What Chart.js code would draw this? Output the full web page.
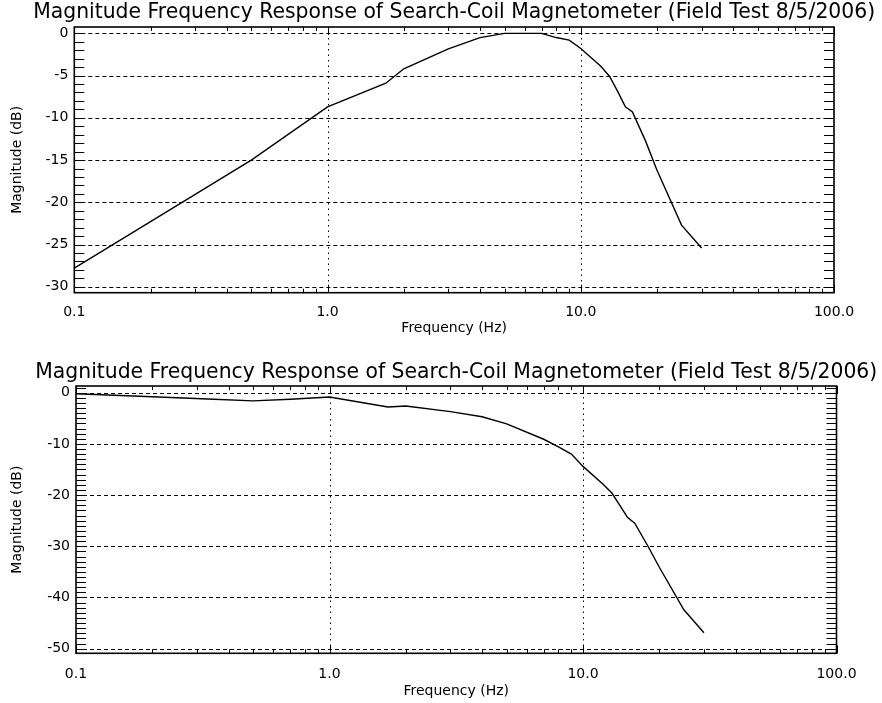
<!DOCTYPE html>
<html><head><meta charset="utf-8">
<script src="https://cdn.jsdelivr.net/npm/chart.js@4.4.1/dist/chart.umd.min.js"></script>
<style>
html,body{margin:0;padding:0;background:#fff;width:882px;height:703px;overflow:hidden}
.p{position:absolute;left:0;width:882px}
#w1{top:0;height:340px}
#w2{top:340px;height:363px}
</style></head><body>
<div class="p" id="w1"><canvas id="c1"></canvas></div>
<div class="p" id="w2"><canvas id="c2"></canvas></div>
<script>
const chartTitle = "Magnitude Frequency Response of Search-Coil Magnetometer (Field Test 8/5/2006)";
const xAxisTitle = "Frequency (Hz)";
const yAxisTitle = "Magnitude (dB)";

const freqTop = [0.1, 0.5, 1.0, 1.7, 2.0, 3.0, 4.0, 5.0, 6.0, 7.0, 8.0, 9.0, 10, 12, 13, 14, 15, 16, 18, 20, 25, 30];
const magTop  = [-27.8, -15.0, -8.7, -5.9, -4.2, -1.85, -0.5, 0, 0, 0, -0.5, -0.8, -1.8, -3.9, -5.1, -6.9, -8.7, -9.3, -12.7, -16.2, -22.7, -25.4];

const freqBottom = [0.1, 0.2, 0.35, 0.5, 0.7, 1.0, 1.7, 2.0, 3.0, 4.0, 5.0, 7.0, 8.0, 9.0, 10, 12, 13, 15, 16, 18, 20, 25, 30];
const magBottom  = [-0.2, -0.8, -1.3, -1.6, -1.3, -0.85, -2.8, -2.6, -3.7, -4.7, -6.1, -9.1, -10.6, -12.0, -14.4, -17.9, -19.6, -24.4, -25.5, -29.9, -34.1, -42.4, -46.9];

const xTickValues = [0.1, 1, 10, 100];
const xTickLabels = ["0.1", "1.0", "10.0", "100.0"];
const xMinorValues = [0.2,0.3,0.4,0.5,0.6,0.7,0.8,0.9,2,3,4,5,6,7,8,9,20,30,40,50,60,70,80,90];
const yTicksTop = [0, -5, -10, -15, -20, -25, -30];
const yTicksBottom = [0, -10, -20, -30, -40, -50];

const FONT = "'DejaVu Sans', sans-serif";

function makeChart(canvasId, freq, mag, yTicks, yMin, yMax, minorStep, L) {
  const pts = freq.map((f, i) => ({x: f, y: mag[i]}));
  const deco = {
    id: 'deco',
    beforeDatasetsDraw(chart) {
      const {ctx, chartArea: a, scales: {x, y}} = chart;
      ctx.save();
      ctx.strokeStyle = '#000';
      ctx.lineWidth = 1;
      ctx.setLineDash([4, 3]);
      yTicks.forEach(v => {
        const py = Math.round(y.getPixelForValue(v)) + 0.5;
        ctx.beginPath(); ctx.moveTo(a.left, py); ctx.lineTo(a.right, py); ctx.stroke();
      });
      ctx.setLineDash([1.5, 4]);
      xTickValues.slice(1, -1).forEach(v => {
        const px = Math.round(x.getPixelForValue(v)) + 0.5;
        ctx.beginPath(); ctx.moveTo(px, a.top); ctx.lineTo(px, a.bottom); ctx.stroke();
      });
      ctx.restore();
    },
    afterDatasetsDraw(chart) {
      const {ctx, chartArea: a, scales: {x, y}} = chart;
      ctx.save();
      ctx.strokeStyle = '#000';
      ctx.setLineDash([]);
      ctx.lineWidth = 1;
      xMinorValues.forEach(v => {
        const px = Math.round(x.getPixelForValue(v)) + 0.5;
        ctx.beginPath();
        ctx.moveTo(px, a.bottom); ctx.lineTo(px, a.bottom - 4);
        ctx.moveTo(px, a.top); ctx.lineTo(px, a.top + 4);
        ctx.stroke();
      });
      xTickValues.forEach(v => {
        const px = Math.round(x.getPixelForValue(v)) + 0.5;
        ctx.beginPath();
        ctx.moveTo(px, a.bottom); ctx.lineTo(px, a.bottom - 8);
        ctx.moveTo(px, a.top); ctx.lineTo(px, a.top + 8);
        ctx.stroke();
      });
      for (let v = Math.ceil(yMin); v <= Math.floor(yMax); v += minorStep) {
        const py = Math.round(y.getPixelForValue(v)) + 0.5;
        ctx.beginPath();
        ctx.moveTo(a.left, py); ctx.lineTo(a.left + 10, py);
        ctx.moveTo(a.right, py); ctx.lineTo(a.right - 10, py);
        ctx.stroke();
      }
      ctx.lineWidth = 1.6;
      ctx.strokeRect(a.left, a.top, a.right - a.left, a.bottom - a.top);
      ctx.fillStyle = '#000';
      let fs = 17;
      ctx.font = fs + 'px ' + FONT;
      const w = ctx.measureText(chartTitle).width;
      fs = fs * L.titleWidth / w;
      ctx.font = fs.toFixed(2) + 'px ' + FONT;
      ctx.textAlign = 'center';
      ctx.textBaseline = 'alphabetic';
      ctx.fillText(chartTitle, (a.left + a.right) / 2, L.titleBase);
      ctx.restore();
    }
  };
  return new Chart(document.getElementById(canvasId), {
    type: 'scatter',
    data: { datasets: [{ data: pts, showLine: true, borderColor: '#000', borderWidth: 1.4, pointRadius: 0, fill: false, tension: 0 }] },
    options: {
      responsive: true, maintainAspectRatio: false, animation: false,
      layout: { padding: { top: L.top, right: L.right, left: 0, bottom: 0 } },
      plugins: { legend: { display: false }, tooltip: { enabled: false }, title: { display: false } },
      scales: {
        x: {
          type: 'logarithmic', min: 0.1, max: 100,
          afterBuildTicks: s => { s.ticks = xTickValues.map(v => ({ value: v })); },
          afterFit: s => { s.height = L.xh; },
          grid: { display: false, drawTicks: false }, border: { display: false },
          ticks: { autoSkip: false, maxRotation: 0, color: '#000', font: { family: FONT, size: 14 }, padding: L.xpad,
                   callback: (v, i) => xTickLabels[i] },
          title: { display: true, text: xAxisTitle, color: '#000', font: { family: FONT, size: 14 }, padding: { top: 0, bottom: L.xtb } }
        },
        y: {
          type: 'linear', min: yMin, max: yMax,
          afterBuildTicks: s => { s.ticks = yTicks.map(v => ({ value: v })); },
          afterFit: s => { s.width = L.yw; },
          grid: { display: false, drawTicks: false }, border: { display: false },
          ticks: { color: '#000', font: { family: FONT, size: 14 }, padding: 6, callback: v => String(v) },
          title: { display: true, text: yAxisTitle, color: '#000', font: { family: FONT, size: 14 }, padding: { top: 9, bottom: 0 } }
        }
      }
    },
    plugins: [deco]
  });
}

makeChart('c1', freqTop, magTop, yTicksTop, -30.7, 0.75, 1,
  { top: 27, right: 48, xh: 47.3, yw: 74.3, xpad: 11, xtb: 3, titleWidth: 843, titleBase: 18 });
makeChart('c2', freqBottom, magBottom, yTicksBottom, -50.9, 1.3, 1,
  { top: 46, right: 45.5, xh: 49.7, yw: 76, xpad: 13, xtb: 3, titleWidth: 843, titleBase: 38 });
</script>
</body></html>
